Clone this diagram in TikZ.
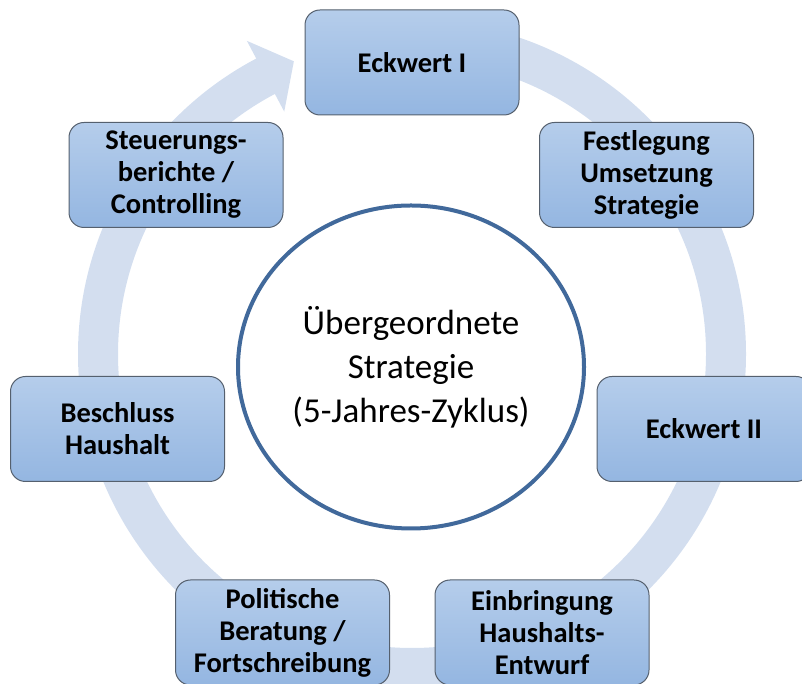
\documentclass[tikz,border=0pt]{standalone}
\usepackage{fontspec}
\setmainfont{Carlito}
\usetikzlibrary{shapes.geometric,calc}
\definecolor{ringblue}{HTML}{D3DEEF}
\definecolor{boxtop}{HTML}{B5CDEB}
\definecolor{boxbottom}{HTML}{94B6E1}
\definecolor{boxedge}{HTML}{55606E}
\definecolor{hubedge}{HTML}{41699B}

\begin{document}
\begin{tikzpicture}[x=1pt,y=1pt,
  stepbox/.style={rectangle, rounded corners=15pt, draw=boxedge, line width=1pt,
    top color=boxtop, bottom color=boxbottom,
    minimum width=214pt, minimum height=105pt, inner sep=0pt, align=center,
    font=\fontsize{28.5}{32}\selectfont\bfseries},
  hub/.style={ellipse, draw=hubedge, line width=4pt, fill=white,
    minimum width=346pt, minimum height=323pt, inner sep=0pt, align=center,
    font=\fontsize{35}{44}\selectfont},
  cyclearrow/.style={draw=ringblue, line width=40pt}]
\clip (0,0) rectangle (802,684);

% circular arrow running clockwise behind the steps
\coordinate (ringc) at (412,330);
\draw[cyclearrow] ($(ringc)+(90:314pt)$) arc[start angle=90, end angle=-242.5, radius=314pt];
\fill[ringblue] ($(ringc)+(117.8:274pt)$) -- ($(ringc)+(117.8:354pt)$)
  -- ($(ringc)+(117.8:314pt)+(27.8:32pt)$) -- cycle;

% the seven steps of the cycle
\node[stepbox] (e1) at (412,621.5) {Eckwert I};
\node[stepbox] (fest) at (646.5,509) {Festlegung\\Umsetzung\\Strategie};
\node[stepbox] (e2) at (704,255) {Eckwert II};
\node[stepbox] (einbr) at (542,51.5) {Einbringung\\Haushalts-\\Entwurf};
\node[stepbox] (polit) at (282.5,51.5) {Politische\\Beratung /\\Fortschreibung};
\node[stepbox] (beschl) at (117.5,255) {Beschluss\\Haushalt};
\node[stepbox] (steuer) at (176,509) {Steuerungs-\\berichte /\\Controlling};

% central strategy
\node[hub] (hub) at (411,317) {Übergeordnete\\Strategie\\(5-Jahres-Zyklus)};
\end{tikzpicture}
\end{document}
